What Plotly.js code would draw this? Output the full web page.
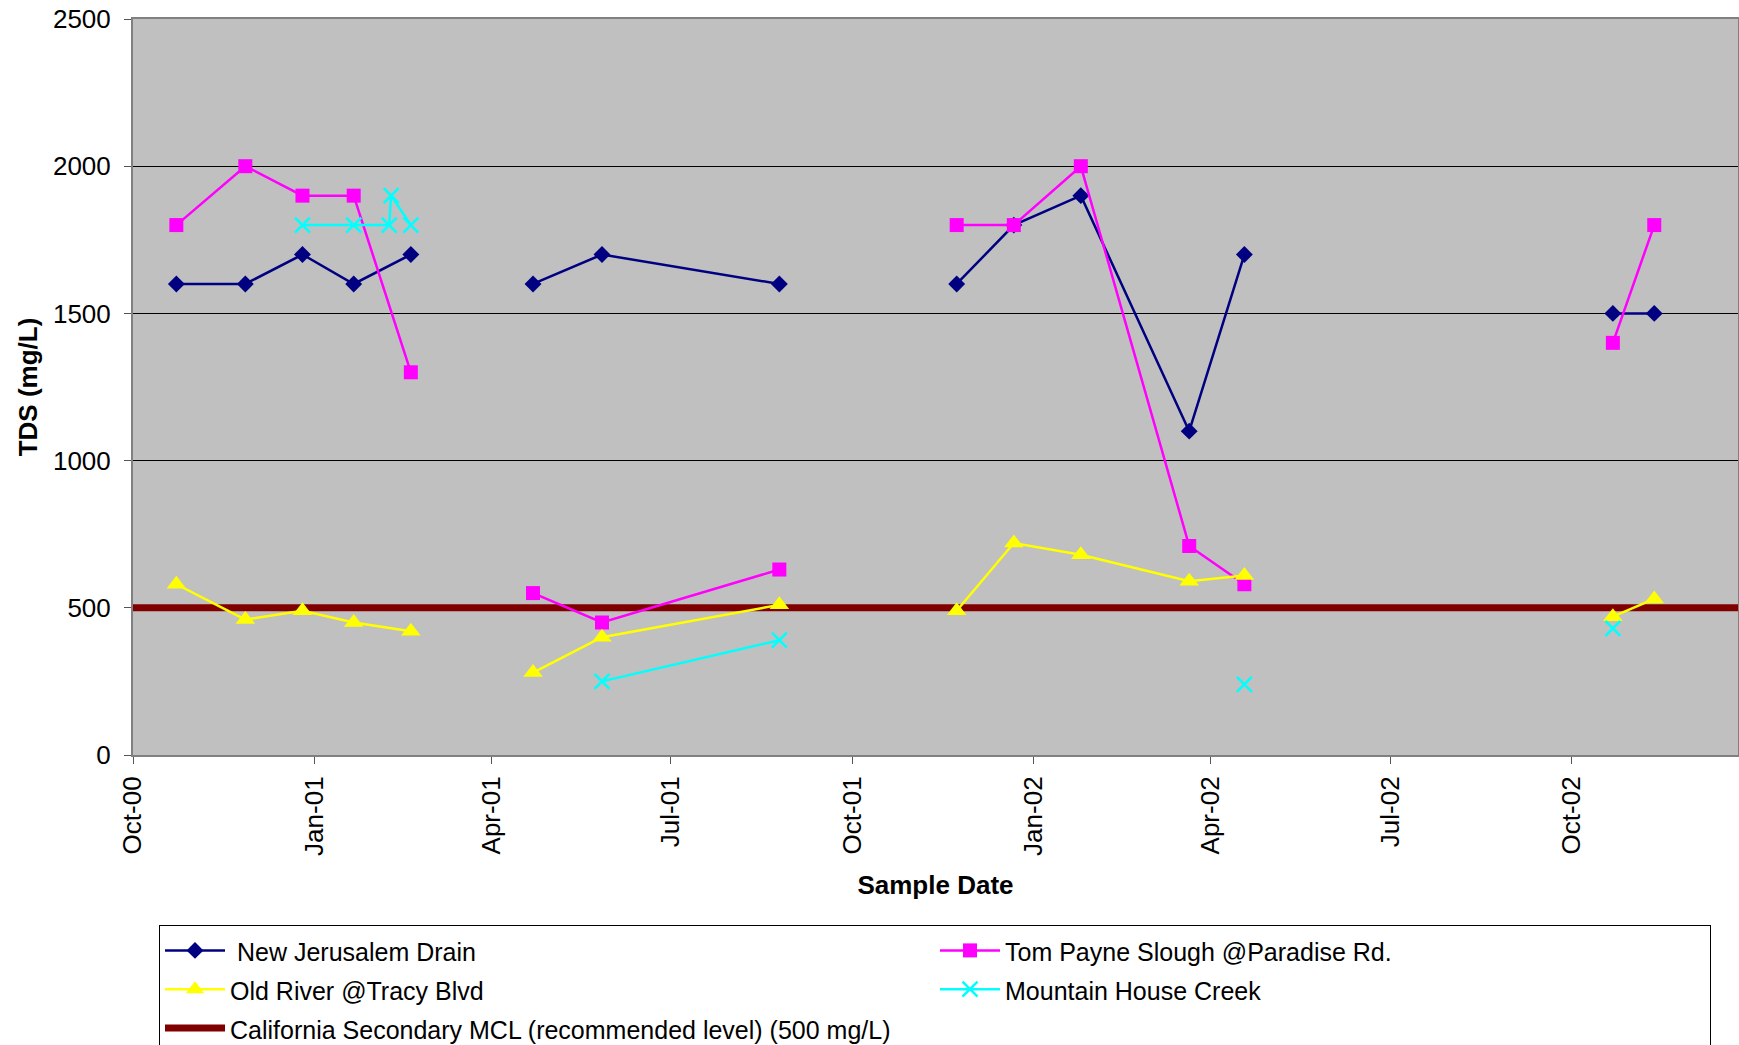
<!DOCTYPE html>
<html>
<head>
<meta charset="utf-8">
<script src="https://cdn.plot.ly/plotly-3.0.1.min.js"></script>
<style>
  html, body { margin: 0; padding: 0; background: #ffffff; }
  #chart { width: 1739px; height: 1045px; }
</style>
</head>
<body>
<div id="chart"></div>
<script>
// ---- Data (TDS, mg/L); null = break in the line ----
const sampleDates = ['2000-10-23', '2000-11-27', '2000-12-26', '2001-01-21', '2001-02-19', null,
                     '2001-04-22', '2001-05-27', '2001-08-25', null,
                     '2001-11-23', '2001-12-22', '2002-01-25', '2002-03-21', '2002-04-18', null,
                     '2002-10-22', '2002-11-12'];
const newJerusalemDrain = [1600, 1600, 1700, 1600, 1700, null,
                           1600, 1700, 1600, null,
                           1600, 1800, 1900, 1100, 1700, null,
                           1500, 1500];
const tomPayneSlough = [1800, 2000, 1900, 1900, 1300, null,
                        550, 450, 630, null,
                        1800, 1800, 2000, 710, 580, null,
                        1400, 1800];
const oldRiverTracy = [580, 460, 490, 450, 420, null,
                       280, 400, 510, null,
                       490, 720, 680, 590, 610, null,
                       470, 530];
const mountainHouseDates = ['2000-12-26', '2001-01-21', '2001-02-08', '2001-02-09', '2001-02-19', null,
                            '2001-05-27', '2001-08-25', null,
                            '2002-04-18', null,
                            '2002-10-22'];
const mountainHouseCreek = [1800, 1800, 1800, 1900, 1800, null,
                            250, 390, null,
                            240, null,
                            430];
const mclDates = ['2000-10-01', '2002-12-24 12:00'];
const mclValues = [500, 500];

const seriesNames = ['\u00A0New Jerusalem Drain', 'Tom Payne Slough @Paradise Rd.', 'Old River @Tracy Blvd',
                     'Mountain House Creek', 'California Secondary MCL (recommended level) (500 mg/L)'];
const xRange = ['2000-10-01', '2002-12-24 12:00'];
const yRange = [0, 2500];

const FONT = 'Liberation Sans, Arial, sans-serif';
const legendName = s => '<span style="font-size:25px">' + s + '</span>';

const traces = [
  {
    name: legendName(seriesNames[4]), x: mclDates, y: mclValues, type: 'scatter', mode: 'lines',
    line: { color: '#800000', width: 7 }, legendrank: 5
  },
  {
    name: legendName(seriesNames[0]), x: sampleDates, y: newJerusalemDrain, type: 'scatter', mode: 'lines+markers',
    line: { color: '#000080', width: 2.5 }, connectgaps: false,
    marker: { symbol: 'diamond', size: 13, color: '#000080' }, legendrank: 1
  },
  {
    name: legendName(seriesNames[1]), x: sampleDates, y: tomPayneSlough, type: 'scatter', mode: 'lines+markers',
    line: { color: '#FF00FF', width: 2.5 }, connectgaps: false,
    marker: { symbol: 'square', size: 14, color: '#FF00FF' }, legendrank: 2
  },
  {
    name: legendName(seriesNames[2]), x: sampleDates, y: oldRiverTracy, type: 'scatter', mode: 'lines+markers',
    line: { color: '#FFFF00', width: 2.5 }, connectgaps: false,
    marker: { symbol: 'triangle-up', size: 17, color: '#FFFF00' }, legendrank: 3
  },
  {
    name: legendName(seriesNames[3]), x: mountainHouseDates, y: mountainHouseCreek, type: 'scatter', mode: 'lines+markers',
    line: { color: '#00FFFF', width: 2.5 }, connectgaps: false,
    marker: { symbol: 'x-thin', size: 15, color: '#00FFFF', line: { color: '#00FFFF', width: 2.5 } }, legendrank: 4
  }
];

const layout = {
  width: 1739, height: 1045,
  margin: { l: 133, r: 1, t: 19, b: 290, autoexpand: false },
  paper_bgcolor: '#ffffff',
  plot_bgcolor: '#C0C0C0',
  font: { family: FONT, size: 26, color: '#000000' },
  showlegend: true,
  xaxis: {
    type: 'date', range: xRange, tick0: '2000-10-01', dtick: 'M3', tickformat: '%b-%y',
    tickangle: -90, ticks: 'outside', ticklen: 7, tickwidth: 1, tickcolor: '#555555',
    ticklabelstandoff: 2,
    showgrid: false, zeroline: false,
    showline: true, linecolor: '#808080', linewidth: 2, mirror: true,
    tickfont: { family: FONT, size: 26, color: '#000000' },
    title: { text: 'Sample Date', font: { family: FONT, size: 26, color: '#000000', weight: 'bold' }, standoff: 21 }
  },
  yaxis: {
    range: yRange, dtick: 500, tick0: 0,
    ticks: 'outside', ticklen: 7, tickwidth: 1, tickcolor: '#555555',
    ticklabelstandoff: 8,
    showgrid: true, gridcolor: '#000000', gridwidth: 1, zeroline: false,
    showline: true, linecolor: '#808080', linewidth: 2, mirror: true,
    tickfont: { family: FONT, size: 26, color: '#000000' },
    title: { text: 'TDS (mg/L)', font: { family: FONT, size: 26, color: '#000000', weight: 'bold' }, standoff: 8 }
  },
  legend: {
    orientation: 'h',
    x: 0.0162, xanchor: 'left',
    y: -0.2310, yanchor: 'top',
    bgcolor: '#ffffff', bordercolor: '#000000', borderwidth: 1,
    font: { family: FONT, size: 27.5, color: '#000000' },
    entrywidth: 700, entrywidthmode: 'pixels',
    itemwidth: 60,
    traceorder: 'normal'
  }
};

Plotly.newPlot('chart', traces, layout, { staticPlot: true, displayModeBar: false });
</script>
</body>
</html>
